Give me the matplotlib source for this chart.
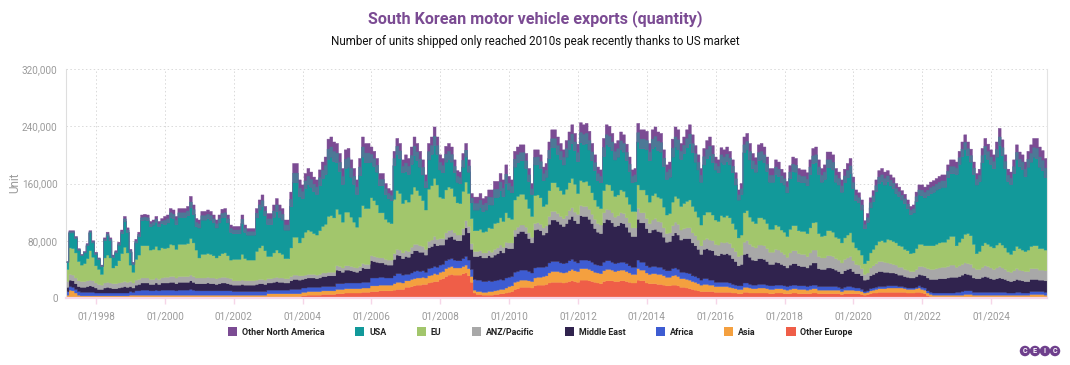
import numpy as np
import pandas as pd
import matplotlib
matplotlib.use("Agg")
import matplotlib.pyplot as plt
from matplotlib.patches import Patch, Ellipse
from matplotlib.ticker import FuncFormatter

plt.rcParams['font.family'] = ['Roboto', 'DejaVu Sans']

# ---------------- data (thousands of units, monthly 1997-03 .. 2025-08) ----------------
months = pd.period_range('1997-03', '2025-08', freq='M')

other_europe = [
    1, 1, 1, 1, 1, 1, 1, 1, 1, 1,                      # 1997 (Mar-Dec)
    1, 1, 1, 1, 1, 1, 1, 1, 1, 1, 1, 1,                # 1998
    1, 1, 1, 1, 1, 1, 1, 1, 1, 1, 1, 1,                # 1999
    1, 1, 1, 1, 1, 1, 1, 1, 1, 1, 1, 1,                # 2000
    1, 1, 1, 1, 1, 1, 1, 1, 1, 1, 1, 1,                # 2001
    1, 1, 1, 1, 1, 1, 1, 1, 1, 1, 1, 1,                # 2002
    2, 2, 2, 2, 2, 2, 2, 2, 2, 2, 2, 2,                # 2003
    3, 3, 4, 4, 4, 4, 4, 5, 5, 5, 5, 5,                # 2004
    6, 6, 6, 7, 7, 7, 7, 7, 7, 8, 8, 8,                # 2005
    9, 9, 9, 10, 10, 10, 10, 10, 11, 12, 12, 12,       # 2006
    15, 15, 16, 17, 18, 18, 19, 19, 21, 22, 23, 23,    # 2007
    26, 27, 30, 32, 33, 32, 32, 32, 34, 35, 31, 22,    # 2008
    7, 5, 5, 4, 4, 4, 4, 5, 5, 6, 6, 7,                # 2009
    8, 9, 12, 13, 15, 15, 15, 15, 14, 17, 18, 18,      # 2010
    18, 19, 21, 22, 22, 22, 22, 21, 22, 23, 24, 23,    # 2011
    22, 25, 25, 25, 24, 23, 22, 21, 20, 23, 24, 24,    # 2012
    24, 23, 23, 24, 24, 23, 22, 21, 21, 25, 24, 24,    # 2013
    21, 20, 20, 20, 19, 19, 18, 17, 17, 18, 18, 17,    # 2014
    15, 15, 14, 13, 12, 11, 10, 9, 9, 9, 9, 9,         # 2015
    8, 8, 8, 8, 8, 8, 7, 7, 6, 6, 8, 8,                # 2016
    7, 7, 7, 7, 7, 7, 7, 6, 6, 7, 7, 7,                # 2017
    6, 6, 6, 7, 7, 6, 6, 6, 6, 6, 7, 7,                # 2018
    6, 6, 6, 6, 6, 6, 6, 6, 5, 6, 6, 6,                # 2019
    6, 6, 6, 5, 4, 5, 6, 7, 7, 8, 8, 8,                # 2020
    8, 8, 8, 8, 8, 8, 8, 7, 7, 7, 8, 8,                # 2021
    7, 6, 3, 2, 1, 1, 1, 1, 1, 1, 1, 1,                # 2022
    1, 1, 1, 1, 1, 1, 1, 1, 1, 1, 1, 1,                # 2023
    1, 1, 1, 1, 1, 1, 1, 1, 1, 1, 1, 1,                # 2024
    1, 1, 1, 1, 1, 1, 1, 1,                            # 2025 (Jan-Aug)
]

asia = [
    3, 10, 9, 6, 3, 2, 2, 2, 2, 2,
    2, 2, 2, 2, 2, 2, 2, 2, 2, 2, 2, 2,
    3, 3, 3, 3, 3, 3, 3, 3, 3, 3, 3, 3,
    3, 3, 3, 3, 3, 3, 3, 3, 3, 3, 3, 3,
    3, 3, 3, 3, 3, 3, 3, 3, 3, 3, 3, 3,
    3, 3, 3, 3, 3, 3, 3, 3, 3, 3, 3, 3,
    4, 4, 4, 4, 4, 4, 4, 4, 4, 4, 4, 4,
    5, 5, 5, 5, 5, 5, 5, 5, 5, 5, 5, 5,
    6, 6, 6, 6, 6, 6, 6, 6, 6, 6, 6, 6,
    8, 8, 8, 8, 8, 8, 8, 8, 9, 10, 10, 9,
    9, 9, 10, 10, 10, 10, 10, 9, 10, 10, 11, 10,
    10, 10, 11, 11, 11, 10, 10, 10, 10, 11, 10, 8,
    4, 4, 4, 4, 4, 5, 5, 5, 6, 6, 6, 7,
    8, 8, 10, 10, 10, 10, 10, 9, 9, 11, 11, 11,
    12, 12, 14, 15, 15, 15, 14, 14, 14, 15, 16, 15,
    15, 16, 16, 16, 16, 15, 14, 14, 14, 15, 16, 16,
    15, 14, 15, 15, 15, 14, 13, 12, 12, 16, 15, 15,
    14, 13, 14, 14, 14, 14, 13, 12, 12, 13, 14, 13,
    12, 12, 12, 12, 11, 11, 10, 9, 10, 10, 9, 9,
    8, 8, 8, 8, 8, 7, 7, 6, 6, 6, 7, 7,
    7, 6, 6, 7, 7, 7, 6, 6, 6, 6, 6, 6,
    6, 5, 6, 6, 6, 6, 6, 6, 5, 6, 6, 6,
    5, 5, 5, 5, 5, 5, 5, 5, 4, 5, 5, 5,
    5, 4, 4, 4, 3, 3, 4, 4, 5, 5, 5, 5,
    6, 6, 6, 6, 6, 6, 5, 5, 5, 5, 5, 6,
    5, 5, 4, 3, 3, 3, 3, 3, 3, 3, 3, 3,
    3, 3, 3, 4, 4, 4, 3, 3, 3, 3, 3, 3,
    3, 3, 3, 3, 3, 3, 3, 3, 3, 3, 3, 3,
    3, 3, 4, 4, 4, 4, 4, 3,
]

africa = [
    5, 5, 5, 5, 5, 5, 5, 5, 5, 5,
    4, 4, 4, 4, 4, 4, 4, 4, 4, 4, 4, 4,
    5, 4, 6, 6, 7, 7, 7, 6, 6, 7, 6, 7,
    7, 7, 7, 7, 6, 7, 7, 7, 7, 8, 7, 6,
    6, 6, 6, 6, 6, 6, 6, 6, 6, 6, 6, 6,
    5, 5, 5, 5, 5, 5, 5, 5, 5, 5, 5, 5,
    5, 5, 5, 5, 5, 5, 5, 5, 6, 6, 6, 6,
    6, 6, 6, 6, 6, 6, 6, 6, 6, 6, 6, 6,
    8, 8, 8, 8, 8, 8, 8, 8, 8, 8, 8, 8,
    11, 11, 11, 11, 11, 10, 10, 10, 11, 12, 12, 11,
    9, 9, 9, 10, 10, 9, 9, 8, 10, 10, 10, 10,
    10, 10, 11, 11, 11, 11, 10, 10, 11, 12, 12, 10,
    15, 16, 16, 15, 15, 15, 14, 14, 14, 14, 13, 14,
    13, 13, 14, 14, 14, 14, 14, 13, 12, 14, 14, 14,
    13, 13, 14, 14, 14, 14, 13, 13, 13, 14, 14, 13,
    12, 12, 12, 12, 12, 12, 11, 11, 11, 12, 12, 12,
    11, 11, 11, 11, 11, 11, 10, 10, 10, 12, 11, 11,
    10, 10, 10, 10, 10, 10, 9, 9, 9, 10, 10, 10,
    9, 9, 9, 9, 8, 8, 8, 7, 8, 8, 7, 7,
    6, 6, 6, 6, 6, 6, 5, 5, 5, 5, 6, 6,
    5, 5, 5, 5, 5, 5, 5, 5, 5, 5, 5, 5,
    5, 5, 5, 5, 5, 5, 5, 5, 5, 5, 5, 5,
    5, 5, 5, 5, 5, 5, 5, 4, 4, 4, 5, 5,
    4, 4, 4, 3, 2, 2, 3, 3, 3, 3, 3, 3,
    3, 3, 3, 3, 2, 2, 2, 2, 2, 2, 2, 3,
    3, 3, 3, 3, 3, 3, 3, 3, 3, 3, 3, 3,
    4, 4, 5, 5, 5, 5, 4, 4, 4, 4, 4, 4,
    4, 4, 4, 4, 4, 4, 3, 3, 3, 4, 4, 3,
    3, 3, 4, 4, 4, 4, 4, 4,
]

middle_east = [
    6, 9, 9, 8, 7, 7, 7, 8, 9, 8,
    7, 5, 5, 7, 8, 7, 6, 6, 7, 8, 9, 8,
    7, 6, 8, 9, 10, 10, 10, 9, 9, 10, 9, 10,
    10, 10, 11, 11, 10, 11, 11, 11, 11, 12, 11, 10,
    10, 10, 10, 11, 10, 10, 9, 10, 11, 11, 10, 9,
    9, 9, 9, 10, 9, 9, 9, 9, 10, 11, 11, 10,
    10, 10, 11, 12, 11, 11, 10, 10, 12, 14, 14, 13,
    12, 13, 13, 13, 13, 12, 13, 14, 14, 15, 15, 15,
    19, 18, 16, 18, 18, 17, 16, 15, 17, 20, 19, 19,
    24, 23, 22, 20, 20, 19, 18, 18, 23, 26, 25, 23,
    25, 24, 27, 29, 28, 27, 26, 24, 29, 30, 32, 30,
    28, 27, 30, 31, 31, 29, 28, 28, 33, 40, 38, 28,
    32, 33, 34, 33, 33, 35, 34, 36, 37, 40, 38, 42,
    40, 39, 50, 53, 54, 54, 51, 46, 42, 53, 53, 51,
    45, 47, 54, 58, 58, 56, 54, 52, 55, 58, 60, 57,
    55, 62, 61, 61, 58, 54, 50, 46, 45, 55, 58, 57,
    55, 52, 52, 55, 54, 51, 47, 43, 43, 57, 55, 55,
    52, 48, 51, 52, 50, 49, 45, 40, 41, 46, 49, 48,
    45, 47, 48, 49, 46, 43, 40, 36, 41, 42, 42, 41,
    38, 37, 40, 39, 40, 39, 36, 33, 28, 30, 40, 41,
    38, 35, 34, 36, 36, 35, 33, 30, 30, 32, 31, 29,
    28, 26, 29, 30, 30, 28, 27, 27, 26, 29, 31, 31,
    25, 24, 24, 26, 26, 25, 23, 22, 21, 23, 24, 25,
    22, 20, 20, 19, 16, 16, 18, 19, 20, 21, 21, 20,
    19, 18, 18, 17, 16, 16, 15, 15, 14, 14, 15, 16,
    17, 17, 18, 18, 19, 19, 20, 20, 20, 21, 22, 22,
    21, 22, 23, 24, 23, 22, 20, 19, 19, 21, 22, 21,
    19, 18, 19, 20, 19, 18, 17, 16, 17, 18, 17, 17,
    16, 16, 17, 17, 17, 16, 16, 16,
]

anz_pacific = [
    8, 8, 8, 8, 8, 8, 8, 8, 8, 8,
    7, 7, 6, 7, 7, 7, 7, 7, 7, 7, 7, 7,
    7, 7, 7, 7, 7, 7, 7, 7, 7, 7, 7, 7,
    8, 8, 8, 8, 8, 8, 8, 8, 8, 8, 8, 8,
    8, 8, 8, 8, 8, 8, 8, 8, 8, 8, 8, 8,
    6, 6, 6, 6, 6, 6, 6, 6, 6, 6, 6, 6,
    6, 6, 6, 6, 6, 6, 6, 6, 6, 6, 6, 6,
    5, 5, 5, 5, 5, 5, 5, 5, 5, 5, 5, 5,
    6, 6, 6, 6, 6, 6, 6, 6, 6, 6, 6, 6,
    7, 7, 7, 7, 7, 7, 7, 7, 8, 8, 8, 8,
    8, 8, 9, 9, 9, 9, 8, 8, 9, 9, 10, 9,
    9, 9, 9, 9, 9, 9, 8, 8, 9, 10, 9, 8,
    7, 7, 7, 7, 7, 7, 7, 8, 8, 8, 8, 8,
    8, 8, 9, 9, 9, 9, 9, 8, 8, 9, 9, 9,
    10, 10, 11, 12, 12, 11, 11, 11, 11, 12, 12, 12,
    13, 14, 14, 14, 14, 13, 13, 12, 12, 14, 14, 14,
    14, 13, 14, 14, 14, 13, 13, 12, 12, 15, 14, 14,
    14, 13, 14, 15, 14, 14, 13, 12, 12, 14, 15, 15,
    14, 14, 15, 15, 14, 14, 13, 12, 13, 14, 14, 14,
    15, 15, 16, 16, 16, 16, 15, 14, 13, 13, 17, 18,
    18, 19, 18, 19, 19, 19, 18, 17, 17, 18, 18, 17,
    16, 15, 17, 18, 18, 17, 17, 17, 16, 17, 18, 18,
    17, 16, 16, 17, 17, 17, 16, 16, 15, 16, 16, 17,
    15, 13, 12, 10, 8, 9, 11, 12, 13, 14, 14, 14,
    13, 13, 12, 12, 11, 11, 10, 10, 9, 9, 10, 11,
    12, 12, 13, 14, 14, 15, 15, 16, 16, 16, 17, 17,
    14, 15, 15, 15, 15, 15, 14, 13, 13, 14, 15, 15,
    15, 14, 15, 16, 15, 14, 13, 13, 14, 15, 14, 14,
    14, 14, 15, 15, 15, 14, 14, 14,
]

eu = [
    17, 37, 37, 35, 27, 23, 25, 31, 41, 33,
    24, 21, 15, 35, 38, 35, 22, 25, 31, 40, 48, 41,
    23, 15, 29, 34, 45, 45, 45, 41, 42, 44, 41, 42,
    40, 41, 45, 44, 40, 45, 45, 45, 46, 51, 47, 39,
    28, 33, 33, 33, 33, 31, 29, 31, 33, 34, 31, 26,
    30, 30, 30, 36, 31, 29, 29, 29, 40, 44, 47, 41,
    31, 31, 35, 38, 35, 33, 28, 28, 40, 53, 53, 46,
    53, 60, 62, 60, 57, 56, 61, 65, 68, 78, 79, 76,
    79, 73, 64, 75, 75, 69, 63, 57, 69, 81, 78, 78,
    81, 78, 73, 63, 63, 56, 53, 51, 76, 82, 79, 69,
    71, 69, 74, 80, 75, 70, 64, 55, 73, 76, 81, 76,
    58, 56, 60, 61, 58, 51, 45, 44, 52, 54, 46, 35,
    29, 29, 30, 29, 30, 32, 33, 36, 35, 38, 36, 41,
    35, 33, 42, 43, 43, 43, 39, 34, 29, 39, 39, 37,
    30, 30, 36, 40, 40, 37, 36, 34, 37, 39, 41, 39,
    29, 35, 34, 35, 33, 30, 27, 24, 23, 31, 35, 35,
    31, 29, 29, 32, 31, 29, 26, 23, 23, 33, 32, 32,
    33, 30, 34, 35, 34, 33, 29, 26, 27, 33, 36, 36,
    33, 35, 37, 39, 37, 34, 32, 29, 35, 37, 39, 36,
    34, 33, 37, 36, 37, 36, 34, 31, 26, 28, 41, 42,
    38, 35, 34, 38, 38, 37, 35, 32, 32, 34, 33, 31,
    31, 29, 33, 35, 35, 32, 32, 32, 32, 35, 38, 39,
    32, 30, 31, 35, 35, 34, 30, 30, 28, 30, 32, 33,
    26, 23, 21, 19, 15, 17, 21, 23, 26, 28, 29, 28,
    33, 33, 32, 31, 30, 29, 28, 27, 25, 26, 29, 31,
    31, 30, 32, 33, 33, 34, 35, 35, 35, 38, 40, 40,
    30, 33, 36, 40, 42, 40, 33, 22, 25, 30, 32, 31,
    30, 30, 32, 33, 32, 30, 27, 25, 28, 31, 30, 29,
    28, 30, 31, 32, 32, 30, 30, 29,
]

usa = [
    10, 21, 22, 20, 16, 13, 15, 18, 25, 20,
    16, 14, 11, 24, 27, 24, 15, 18, 22, 28, 36, 29,
    18, 11, 23, 26, 35, 36, 35, 33, 34, 34, 33, 34,
    34, 35, 38, 37, 35, 38, 38, 38, 39, 43, 40, 33,
    42, 48, 48, 49, 48, 46, 42, 46, 50, 50, 46, 39,
    36, 36, 36, 43, 37, 35, 35, 35, 47, 53, 55, 49,
    45, 45, 50, 54, 50, 48, 40, 40, 58, 76, 76, 65,
    55, 61, 64, 62, 59, 57, 63, 67, 70, 80, 82, 79,
    65, 60, 53, 61, 63, 56, 53, 46, 58, 68, 64, 64,
    50, 48, 46, 38, 38, 35, 33, 32, 47, 51, 49, 43,
    40, 39, 42, 44, 42, 40, 36, 31, 41, 44, 46, 43,
    38, 36, 39, 39, 37, 33, 29, 28, 34, 35, 30, 22,
    29, 29, 31, 29, 30, 33, 33, 36, 36, 38, 35, 41,
    39, 37, 46, 47, 47, 47, 43, 38, 31, 43, 43, 41,
    36, 38, 45, 49, 49, 46, 44, 41, 45, 47, 49, 47,
    45, 53, 53, 53, 50, 45, 41, 36, 36, 48, 55, 54,
    56, 51, 53, 56, 55, 51, 46, 40, 42, 60, 58, 58,
    63, 58, 66, 66, 65, 65, 57, 50, 51, 63, 69, 68,
    66, 70, 75, 79, 75, 69, 66, 60, 70, 75, 79, 73,
    70, 68, 75, 74, 76, 74, 71, 62, 53, 57, 84, 85,
    80, 74, 72, 80, 81, 79, 73, 66, 66, 71, 70, 66,
    66, 61, 71, 76, 75, 69, 68, 68, 67, 75, 83, 83,
    83, 76, 79, 88, 88, 87, 77, 75, 71, 77, 80, 83,
    75, 66, 66, 63, 49, 54, 63, 67, 75, 81, 83, 80,
    81, 76, 74, 69, 69, 65, 64, 59, 55, 56, 66, 69,
    68, 67, 70, 73, 75, 76, 76, 77, 77, 86, 88, 88,
    100, 109, 115, 118, 109, 103, 98, 96, 98, 116, 124, 119,
    115, 111, 123, 136, 125, 111, 99, 98, 108, 121, 115, 113,
    105, 116, 118, 124, 122, 114, 109, 101,
]

other_north_america = [
    1, 3, 3, 3, 2, 2, 2, 3, 3, 3,
    3, 2, 2, 4, 5, 4, 3, 3, 4, 5, 7, 6,
    4, 3, 5, 6, 8, 8, 8, 7, 7, 8, 7, 7,
    11, 11, 12, 12, 11, 12, 12, 12, 13, 16, 13, 11,
    11, 12, 12, 12, 12, 11, 11, 11, 12, 12, 11, 10,
    10, 10, 10, 12, 10, 9, 9, 9, 13, 14, 16, 13,
    15, 15, 17, 18, 17, 16, 14, 14, 20, 27, 27, 23,
    19, 21, 22, 21, 20, 20, 22, 23, 24, 28, 28, 27,
    27, 25, 22, 26, 26, 24, 22, 20, 24, 28, 27, 27,
    21, 21, 19, 17, 17, 15, 14, 14, 20, 22, 21, 18,
    23, 22, 24, 26, 24, 22, 21, 18, 23, 24, 26, 24,
    21, 20, 22, 22, 21, 18, 16, 16, 19, 19, 17, 13,
    18, 18, 19, 18, 19, 20, 21, 23, 22, 24, 23, 26,
    19, 18, 22, 22, 22, 22, 21, 18, 15, 21, 20, 19,
    19, 19, 23, 25, 25, 24, 22, 21, 23, 24, 26, 24,
    24, 28, 27, 28, 26, 24, 22, 19, 18, 25, 28, 28,
    24, 23, 23, 25, 24, 23, 20, 18, 18, 26, 26, 26,
    26, 24, 26, 27, 26, 26, 23, 20, 21, 25, 28, 28,
    22, 23, 25, 26, 25, 23, 21, 19, 23, 25, 26, 24,
    18, 18, 20, 20, 20, 19, 18, 17, 14, 15, 22, 23,
    23, 21, 20, 22, 23, 22, 20, 19, 19, 20, 20, 19,
    17, 16, 18, 20, 19, 18, 18, 18, 18, 20, 21, 22,
    20, 19, 20, 22, 22, 21, 19, 18, 17, 19, 20, 21,
    16, 15, 14, 14, 11, 12, 14, 15, 16, 18, 18, 18,
    15, 15, 15, 14, 13, 13, 13, 12, 11, 11, 13, 14,
    15, 15, 15, 16, 16, 16, 17, 17, 17, 18, 19, 19,
    17, 18, 20, 21, 19, 18, 17, 16, 17, 20, 22, 21,
    20, 19, 21, 24, 22, 19, 17, 17, 19, 21, 20, 20,
    20, 22, 24, 26, 28, 28, 28, 27,
]

series_names = ["Other North America", "USA", "EU", "ANZ/Pacific",
                "Middle East", "Africa", "Asia", "Other Europe"]
tick_years = list(range(1998, 2025, 2))
tick_labels = [f"01/{y}" for y in tick_years]

# ---------------- styling ----------------
colors = {
    "Other North America": "#7B4B93",
    "USA": "#12999A",
    "EU": "#A2C66C",
    "ANZ/Pacific": "#A8A8A8",
    "Middle East": "#30234E",
    "Africa": "#3D5CD2",
    "Asia": "#F4A03F",
    "Other Europe": "#EF5E48",
}
slate = "#4D7896"

data = {
    "Other North America": other_north_america,
    "USA": usa,
    "EU": eu,
    "ANZ/Pacific": anz_pacific,
    "Middle East": middle_east,
    "Africa": africa,
    "Asia": asia,
    "Other Europe": other_europe,
}
n = len(months)
for k, v in data.items():
    assert len(v) == n, (k, len(v))

fig = plt.figure(figsize=(10.7, 3.65), dpi=100)
ax = fig.add_axes([66 / 1070, 1 - 298 / 365, (1047 - 66) / 1070, (298 - 69) / 365])

edges = np.arange(n + 1) - 0.5
base = np.zeros(n)
stack_order = list(reversed(series_names))  # bottom -> top
for name in stack_order:
    vals = np.asarray(data[name], dtype=float) * 1000
    top = base + vals
    ax.stairs(top, edges, baseline=base, fill=True, facecolor=colors[name],
              edgecolor=colors[name], linewidth=0.3, zorder=2)
    if name == "USA":
        usa_top = top.copy()
    base = top

# blended band where the top layer overlaps the USA layer
ona = np.asarray(other_north_america, dtype=float) * 1000
ax.stairs(usa_top + ona * 0.5, edges, baseline=usa_top, fill=True,
          facecolor=slate, edgecolor=slate, linewidth=0.3, zorder=3)

# axes formatting
ax.set_xlim(-0.5, n - 0.5)
ax.set_ylim(0, 320000)
yt = [0, 80000, 160000, 240000, 320000]
ax.set_yticks(yt)
ax.yaxis.set_major_formatter(FuncFormatter(lambda v, p: f"{int(v):,}"))
tick_pos = [months.get_loc(pd.Period(f"{y}-01", freq='M')) for y in tick_years]
ax.set_xticks(tick_pos)
ax.set_xticklabels(tick_labels)

ax.tick_params(axis='y', length=0, labelsize=7.2, labelcolor="#9b9b9b", pad=6)
ax.tick_params(axis='x', length=4, width=1, color="#f6d6e8", labelsize=7.2,
               labelcolor="#9b9b9b", pad=6)
ax.grid(True, axis='both', linestyle=(0, (1.5, 2.5)), color="#d9d9d9", linewidth=0.7, zorder=0)
ax.set_axisbelow(True)

ax.spines["top"].set_visible(False)
ax.spines["left"].set_color("#dedede")
ax.spines["left"].set_linewidth(0.8)
ax.spines["right"].set_color("#e3e3e3")
ax.spines["right"].set_linewidth(0.8)
ax.spines["bottom"].set_color("#f6d6e8")
ax.spines["bottom"].set_linewidth(1.6)

fig.text(15 / 1070, 1 - 183 / 365, "Unit", rotation=90, ha='center', va='center',
         color="#9b9b9b", fontsize=8.5)

# titles
fig.text(0.5, 1 - 19 / 365, "South Korean motor vehicle exports (quantity)",
         ha='center', va='center', color="#7B4B93", fontsize=11.6, fontweight='bold')
fig.text(0.5, 1 - 42 / 365,
         "Number of units shipped only reached 2010s peak recently thanks to US market",
         ha='center', va='center', color="#111111", fontsize=8.4)

# legend
handles = [Patch(facecolor=colors[nm], edgecolor='none') for nm in series_names]
leg = fig.legend(handles, series_names, loc='center', bbox_to_anchor=(0.505, 1 - 332 / 365),
                 ncol=8, frameon=False, handlelength=1.05, handleheight=1.05,
                 handletextpad=0.55, columnspacing=3.4,
                 prop={'size': 6.4, 'weight': 'bold'})
for t in leg.get_texts():
    t.set_color("#222222")

# CEIC logo
for i, ch in enumerate("CEIC"):
    cx = (1025 + i * 10) / 1070
    cy = 1 - 351 / 365
    fig.patches.append(Ellipse((cx, cy), 10.5 / 1070, 10.5 / 365, transform=fig.transFigure,
                               facecolor="#6E3F8C", edgecolor='none'))
    fig.text(cx, cy, ch, ha='center', va='center', color='white', fontsize=5.2,
             fontweight='bold')

fig.savefig("out.png", dpi=100)
